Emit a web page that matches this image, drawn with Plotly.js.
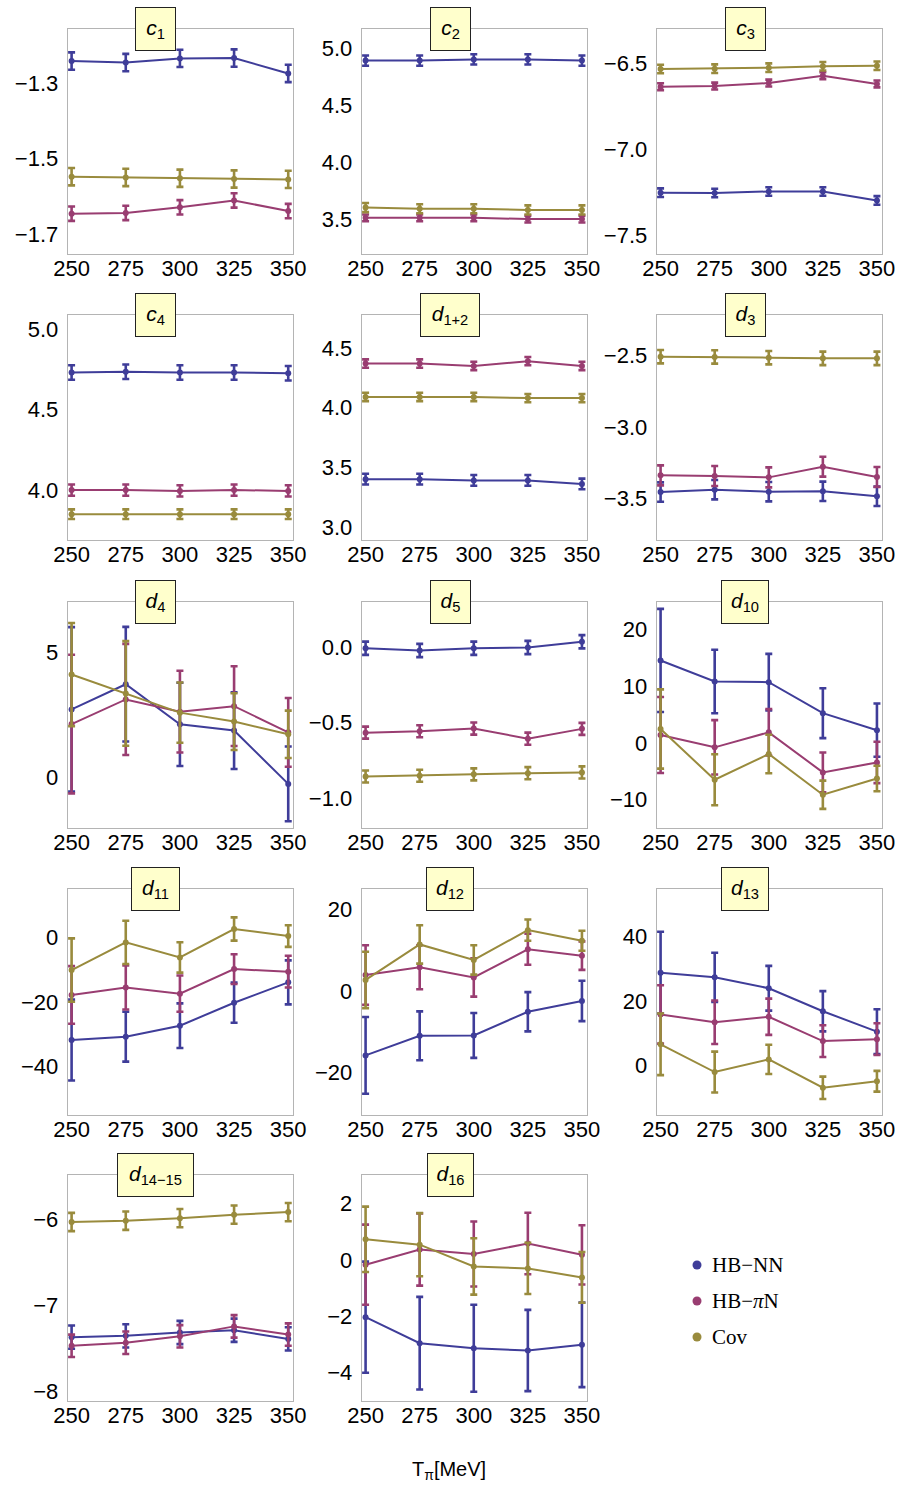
<!DOCTYPE html>
<html>
<head>
<meta charset="utf-8">
<script src="https://cdn.plot.ly/plotly-3.0.1.min.js"></script>
<style>html,body{margin:0;padding:0;background:#fff;} #chart{width:900px;height:1488px;}</style>
</head>
<body>
<div id="chart"></div>
<script>
// ---------- DATA ----------
const T = [250, 275, 300, 325, 350];
const seriesNames = ['HB−NN', 'HB−<i>π</i>N', 'Cov'];

const c1_NN = [-1.241, -1.245, -1.234, -1.233, -1.274];
const c1_NN_err = [0.023, 0.023, 0.023, 0.023, 0.023];
const c1_PN = [-1.646, -1.644, -1.629, -1.611, -1.639];
const c1_PN_err = [0.019, 0.019, 0.019, 0.019, 0.019];
const c1_CV = [-1.548, -1.550, -1.552, -1.554, -1.555];
const c1_CV_err = [0.023, 0.023, 0.023, 0.023, 0.023];

const c2_NN = [4.89, 4.89, 4.90, 4.90, 4.89];
const c2_NN_err = [0.045, 0.045, 0.045, 0.045, 0.045];
const c2_PN = [3.51, 3.51, 3.51, 3.50, 3.50];
const c2_PN_err = [0.03, 0.03, 0.03, 0.03, 0.03];
const c2_CV = [3.60, 3.59, 3.59, 3.58, 3.58];
const c2_CV_err = [0.04, 0.04, 0.04, 0.04, 0.04];

const c3_NN = [-7.253, -7.255, -7.246, -7.246, -7.298];
const c3_NN_err = [0.025, 0.025, 0.025, 0.025, 0.025];
const c3_PN = [-6.636, -6.632, -6.615, -6.572, -6.620];
const c3_PN_err = [0.02, 0.02, 0.02, 0.02, 0.02];
const c3_CV = [-6.533, -6.531, -6.525, -6.517, -6.514];
const c3_CV_err = [0.025, 0.025, 0.025, 0.025, 0.025];

const c4_NN = [4.730, 4.735, 4.730, 4.730, 4.725];
const c4_NN_err = [0.045, 0.045, 0.045, 0.045, 0.045];
const c4_PN = [4.000, 4.000, 3.995, 4.000, 3.995];
const c4_PN_err = [0.035, 0.035, 0.035, 0.035, 0.035];
const c4_CV = [3.850, 3.850, 3.850, 3.850, 3.850];
const c4_CV_err = [0.03, 0.03, 0.03, 0.03, 0.03];

const d12_NN = [3.40, 3.40, 3.39, 3.39, 3.36];
const d12_NN_err = [0.045, 0.045, 0.045, 0.045, 0.045];
const d12_PN = [4.37, 4.37, 4.35, 4.39, 4.35];
const d12_PN_err = [0.035, 0.035, 0.035, 0.035, 0.035];
const d12_CV = [4.09, 4.09, 4.09, 4.08, 4.08];
const d12_CV_err = [0.035, 0.035, 0.035, 0.035, 0.035];

const d3_NN = [-3.456, -3.439, -3.453, -3.451, -3.486];
const d3_NN_err = [0.068, 0.068, 0.068, 0.068, 0.068];
const d3_PN = [-3.339, -3.343, -3.353, -3.278, -3.350];
const d3_PN_err = [0.07, 0.07, 0.07, 0.07, 0.07];
const d3_CV = [-2.507, -2.509, -2.514, -2.519, -2.519];
const d3_CV_err = [0.047, 0.047, 0.047, 0.047, 0.047];

const d4_NN = [2.72, 3.73, 2.12, 1.87, -0.27];
const d4_NN_err = [3.3, 2.3, 1.67, 1.54, 1.5];
const d4_PN = [2.13, 3.12, 2.63, 2.85, 1.80];
const d4_PN_err = [2.78, 2.23, 1.64, 1.6, 1.38];
const d4_CV = [4.12, 3.36, 2.59, 2.23, 1.72];
const d4_CV_err = [2.07, 2.1, 1.21, 1.14, 0.95];

const d5_NN = [-0.007, -0.022, -0.007, -0.002, 0.036];
const d5_NN_err = [0.044, 0.044, 0.044, 0.044, 0.044];
const d5_PN = [-0.567, -0.558, -0.540, -0.607, -0.542];
const d5_PN_err = [0.04, 0.04, 0.04, 0.04, 0.04];
const d5_CV = [-0.858, -0.853, -0.844, -0.836, -0.831];
const d5_CV_err = [0.04, 0.04, 0.04, 0.04, 0.04];

const d10_NN = [14.58, 10.87, 10.75, 5.27, 2.27];
const d10_NN_err = [9.1, 5.6, 5.0, 4.4, 4.7];
const d10_PN = [1.42, -0.76, 1.89, -5.18, -3.42];
const d10_PN_err = [6.7, 4.8, 4.1, 3.5, 3.66];
const d10_CV = [2.48, -6.48, -1.94, -9.13, -6.25];
const d10_CV_err = [7.0, 4.5, 3.4, 2.5, 2.25];

const d11_NN = [-31.75, -30.7, -27.3, -20.2, -13.9];
const d11_NN_err = [12.5, 7.7, 6.9, 6.2, 6.8];
const d11_PN = [-17.8, -15.5, -17.4, -9.8, -10.6];
const d11_PN_err = [8.9, 6.8, 5.6, 4.6, 4.9];
const d11_CV = [-10.1, -1.55, -6.19, 2.58, 0.41];
const d11_CV_err = [9.8, 6.7, 4.7, 3.6, 3.35];

const d12b_NN = [-15.8, -11.0, -10.9, -5.1, -2.45];
const d12b_NN_err = [9.4, 6.0, 5.5, 4.8, 4.95];
const d12b_PN = [3.9, 5.8, 3.3, 10.2, 8.65];
const d12b_PN_err = [7.3, 5.4, 4.7, 3.8, 3.5];
const d12b_CV = [2.7, 11.4, 7.6, 14.9, 12.3];
const d12b_CV_err = [6.9, 4.7, 3.6, 2.6, 2.45];

const d13_NN = [28.7, 27.25, 23.9, 16.8, 10.5];
const d13_NN_err = [12.6, 7.6, 6.9, 6.2, 6.9];
const d13_PN = [15.8, 13.4, 15.1, 7.6, 8.2];
const d13_PN_err = [9.0, 6.7, 5.6, 4.9, 4.9];
const d13_CV = [6.6, -1.95, 1.95, -6.8, -4.8];
const d13_CV_err = [9.5, 6.3, 4.5, 3.45, 3.2];

const d1415_NN = [-7.37, -7.355, -7.316, -7.29, -7.39];
const d1415_NN_err = [0.135, 0.135, 0.135, 0.135, 0.135];
const d1415_PN = [-7.47, -7.435, -7.36, -7.245, -7.34];
const d1415_PN_err = [0.13, 0.13, 0.13, 0.13, 0.13];
const d1415_CV = [-6.035, -6.02, -5.99, -5.95, -5.92];
const d1415_CV_err = [0.106, 0.106, 0.106, 0.106, 0.106];

const d16_NN = [-2.03, -2.95, -3.13, -3.21, -3.01];
const d16_NN_err = [1.97, 1.64, 1.54, 1.44, 1.5];
const d16_PN = [-0.17, 0.37, 0.21, 0.58, 0.18];
const d16_PN_err = [1.42, 1.28, 1.15, 1.09, 1.05];
const d16_CV = [0.73, 0.54, -0.23, -0.30, -0.62];
const d16_CV_err = [1.16, 1.12, 1.0, 0.91, 0.9];

// ---------- PANELS ----------
const panels = [
  {label:'<i>c</i><sub>1</sub>', w:37, row:0, col:0, range:[-1.753,-1.156], dtick:0.2, tick0:-1.7, fmt:'.1f',
   s:[[c1_NN,c1_NN_err],[c1_PN,c1_PN_err],[c1_CV,c1_CV_err]]},
  {label:'<i>c</i><sub>2</sub>', w:37, row:0, col:1, range:[3.193,5.167], dtick:0.5, tick0:0, fmt:'.1f',
   s:[[c2_NN,c2_NN_err],[c2_PN,c2_PN_err],[c2_CV,c2_CV_err]]},
  {label:'<i>c</i><sub>3</sub>', w:37, row:0, col:2, range:[-7.61,-6.30], dtick:0.5, tick0:0, fmt:'.1f',
   s:[[c3_NN,c3_NN_err],[c3_PN,c3_PN_err],[c3_CV,c3_CV_err]]},
  {label:'<i>c</i><sub>4</sub>', w:37, row:1, col:0, range:[3.69,5.087], dtick:0.5, tick0:0, fmt:'.1f',
   s:[[c4_NN,c4_NN_err],[c4_PN,c4_PN_err],[c4_CV,c4_CV_err]]},
  {label:'<i>d</i><sub>1+2</sub>', w:56, row:1, col:1, range:[2.89,4.777], dtick:0.5, tick0:0, fmt:'.1f',
   s:[[d12_NN,d12_NN_err],[d12_PN,d12_PN_err],[d12_CV,d12_CV_err]]},
  {label:'<i>d</i><sub>3</sub>', w:37, row:1, col:2, range:[-3.792,-2.215], dtick:0.5, tick0:0, fmt:'.1f',
   s:[[d3_NN,d3_NN_err],[d3_PN,d3_PN_err],[d3_CV,d3_CV_err]]},
  {label:'<i>d</i><sub>4</sub>', w:37, row:2, col:0, range:[-2.04,7.03], dtick:5, tick0:0, fmt:'d',
   s:[[d4_NN,d4_NN_err],[d4_PN,d4_PN_err],[d4_CV,d4_CV_err]]},
  {label:'<i>d</i><sub>5</sub>', w:37, row:2, col:1, range:[-1.2,0.30], dtick:0.5, tick0:0, fmt:'.1f',
   s:[[d5_NN,d5_NN_err],[d5_PN,d5_PN_err],[d5_CV,d5_CV_err]]},
  {label:'<i>d</i><sub>10</sub>', w:44, row:2, col:2, range:[-15,24.9], dtick:10, tick0:0, fmt:'d',
   s:[[d10_NN,d10_NN_err],[d10_PN,d10_PN_err],[d10_CV,d10_CV_err]]},
  {label:'<i>d</i><sub>11</sub>', w:45, row:3, col:0, range:[-54.9,14.95], dtick:20, tick0:0, fmt:'d',
   s:[[d11_NN,d11_NN_err],[d11_PN,d11_PN_err],[d11_CV,d11_CV_err]]},
  {label:'<i>d</i><sub>12</sub>', w:44, row:3, col:1, range:[-30.4,24.98], dtick:20, tick0:0, fmt:'d',
   s:[[d12b_NN,d12b_NN_err],[d12b_PN,d12b_PN_err],[d12b_CV,d12b_CV_err]]},
  {label:'<i>d</i><sub>13</sub>', w:44, row:3, col:2, range:[-15.2,54.5], dtick:20, tick0:0, fmt:'d',
   s:[[d13_NN,d13_NN_err],[d13_PN,d13_PN_err],[d13_CV,d13_CV_err]]},
  {label:'<i>d</i><sub>14−15</sub>', w:73, row:4, col:0, range:[-8.11,-5.49], dtick:1, tick0:0, fmt:'d',
   s:[[d1415_NN,d1415_NN_err],[d1415_PN,d1415_PN_err],[d1415_CV,d1415_CV_err]]},
  {label:'<i>d</i><sub>16</sub>', w:43, row:4, col:1, range:[-5.0,3.01], dtick:2, tick0:0, fmt:'d',
   s:[[d16_NN,d16_NN_err],[d16_PN,d16_PN_err],[d16_CV,d16_CV_err]]}
];

// ---------- STYLE / LAYOUT GEOMETRY ----------
const W = 900, H = 1488;
const colors = ['rgb(63,61,153)', 'rgb(153,61,113)', 'rgb(153,139,61)'];
const colX = [[67.7, 293], [361.7, 586.7], [656.7, 881.7]];
const rowY = [[29, 254], [315, 540], [602, 828], [889, 1115], [1175, 1401]];
const boxCX = [155, 450, 745];
const xRange = [248.2, 352.2];
const FONT = '"Liberation Sans", Arial, Helvetica, sans-serif';
const SERIF = '"Liberation Serif", "Times New Roman", serif';
const TICKSIZE = 22;

const traces = [];
const layout = {
  width: W, height: H,
  margin: {l:0, r:0, t:0, b:0},
  paper_bgcolor: '#fff', plot_bgcolor: '#fff',
  showlegend: false,
  font: {family: FONT, size: TICKSIZE, color: '#000'},
  annotations: [], shapes: []
};

panels.forEach((p, i) => {
  const k = i + 1;
  const xa = 'x' + (k === 1 ? '' : k), ya = 'y' + (k === 1 ? '' : k);
  const xk = 'xaxis' + (k === 1 ? '' : k), yk = 'yaxis' + (k === 1 ? '' : k);
  const cx = colX[p.col], ry = rowY[p.row];
  layout[xk] = {
    domain: [cx[0] / W, cx[1] / W], anchor: ya, range: xRange,
    tickvals: T, ticktext: T.map(String), showgrid: false, zeroline: false,
    showline: true, mirror: true, linecolor: '#b4b4b4', linewidth: 1,
    ticks: '', ticklen: 0, ticklabelstandoff: -5, tickfont: {family: FONT, size: TICKSIZE, color: '#000'}
  };
  layout[yk] = {
    domain: [1 - ry[1] / H, 1 - ry[0] / H], anchor: xa, range: p.range,
    dtick: p.dtick, tick0: p.tick0, tickformat: p.fmt, showgrid: false, zeroline: false,
    showline: true, mirror: true, linecolor: '#b4b4b4', linewidth: 1,
    ticks: '', ticklen: 0, ticklabelstandoff: 4, tickfont: {family: FONT, size: TICKSIZE, color: '#000'}
  };
  p.s.forEach((ser, j) => {
    traces.push({
      type: 'scatter', mode: 'lines+markers', x: T, y: ser[0], xaxis: xa, yaxis: ya,
      name: seriesNames[j],
      line: {color: colors[j], width: 2},
      marker: {color: colors[j], size: 6},
      error_y: {type: 'data', array: ser[1], visible: true, color: colors[j], thickness: 2.6, width: 3.5},
      cliponaxis: true
    });
  });
  layout.annotations.push({
    text: p.label, xref: 'paper', yref: 'paper',
    x: boxCX[p.col] / W, y: 1 - ry[0] / H, xanchor: 'center', yanchor: 'middle',
    showarrow: false, bgcolor: '#ffffcc', bordercolor: '#222', borderwidth: 1,
    width: p.w, height: 40, font: {family: FONT, size: 21, color: '#000'}
  });
});

// x-axis title
layout.annotations.push({
  text: 'T<sub>π</sub>[MeV]', xref: 'paper', yref: 'paper',
  x: 449 / W, y: 1 - 1470 / H, xanchor: 'center', yanchor: 'middle',
  showarrow: false, font: {family: FONT, size: 20, color: '#000'}
});

// legend
const legY = [1265, 1301, 1337];
seriesNames.forEach((nm, j) => {
  layout.annotations.push({
    text: nm, xref: 'paper', yref: 'paper', x: 710 / W, y: 1 - legY[j] / H,
    xanchor: 'left', yanchor: 'middle', showarrow: false,
    font: {family: SERIF, size: 21, color: '#000'}
  });
  layout.shapes.push({
    type: 'circle', xref: 'paper', yref: 'paper',
    x0: 692.5 / W, x1: 701.5 / W, y0: 1 - (legY[j] + 4.5) / H, y1: 1 - (legY[j] - 4.5) / H,
    fillcolor: colors[j], line: {width: 0}
  });
});

Plotly.newPlot('chart', traces, layout, {staticPlot: true, displayModeBar: false});
</script>
</body>
</html>
